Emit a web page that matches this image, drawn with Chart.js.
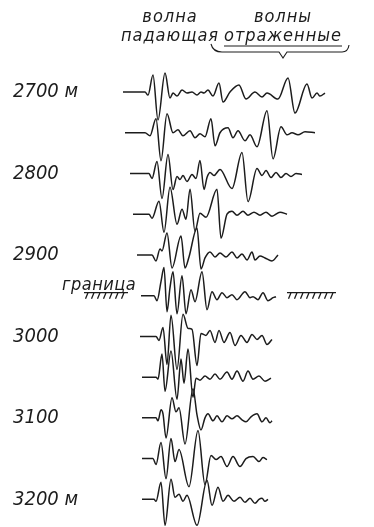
<!DOCTYPE html>
<html>
<head>
<meta charset="utf-8">
<script src="https://cdn.jsdelivr.net/npm/chart.js@4.4.1/dist/chart.umd.min.js"></script>
<style>
  html, body { margin: 0; padding: 0; background: #fff; }
  canvas { display: block; }
</style>
</head>
<body>
<canvas id="seis" width="374" height="527"></canvas>
<script>
// geophone depths, m
var depths = [2700, 2750, 2800, 2850, 2900, 2950, 3000, 3050, 3100, 3150, 3200];
var depthTicks = [2700, 2800, 2900, 3000, 3100, 3200];
var boundaryDepth = 2950;

// each trace: [time, amplitude] at the turning points
var tr2700 = [[3,0],[25,0],[28,-3],[33,17],[38,-28],[45,19],[50,-6],[53,-1],[57,-4],[62,2],[67,-1],[72,0],[77,-3],[81,0],[84,-1],[88,2],[93,-4],[99,9],[103,-10],[110,0],[119,7],[126,-7],[135,0],[142,-5],[147,-1],[158,-7],[168,14],[175,-21],[187,8],[192,-6],[197,-1],[200,-4],[205,-1]];
var tr2750 = [[5,0],[25,0],[30,-3],[36,14],[41,-28],[47,19],[53,0],[58,3],[63,-3],[70,2],[75,-5],[80,-1],[85,-4],[91,14],[95,-13],[100,0],[108,5],[113,-5],[118,2],[125,-8],[130,-2],[137,-14],[147,22],[153,-26],[161,6],[167,-2],[172,0],[178,-2],[185,1],[195,0]];
var tr2800 = [[10,0],[29,0],[32,-5],[37,12],[42,-25],[48,19],[53,-16],[57,-3],[60,-6],[63,-2],[67,-8],[72,-1],[76,-5],[80,13],[84,-16],[87,-4],[90,1],[94,-2],[100,4],[112,-15],[122,21],[128,-28],[137,5],[142,-2],[146,3],[151,-4],[156,1],[161,-4],[166,0],[171,-3],[176,0],[182,-1]];
var tr2850 = [[13,0],[29,0],[32,-4],[39,13],[44,-18],[50,27],[57,-10],[62,5],[66,-5],[70,25],[75,-17],[80,1],[86,-3],[97,25],[101,-24],[107,0],[112,3],[117,-1],[123,3],[128,-1],[134,2],[140,-1],[146,2],[152,-2],[160,2],[167,0]];
var tr2900 = [[17,0],[32,0],[36,-6],[40,6],[42,4],[47,22],[52,-13],[61,19],[65,-13],[69,-2],[77,27],[81,-14],[85,-3],[90,3],[95,-2],[100,2],[106,-2],[112,3],[117,-3],[122,1],[127,-5],[132,3],[135,-5],[140,-1],[145,-3],[152,-6],[158,0]];
var tr2950 = [[21,0],[34,0],[37,-5],[41,14],[44,28],[47,-16],[50,8],[53,24],[57,-18],[62,20],[66,-18],[71,6],[75,-6],[82,24],[87,-14],[92,4],[97,-4],[102,3],[107,-2],[112,1],[117,-4],[125,4],[130,-2],[133,-1],[138,-4],[143,3],[148,-5],[153,-2],[156,-1]];
var tr3000 = [[20,0],[36,0],[39,-4],[43,9],[47,-28],[51,21],[57,-33],[63,22],[68,8],[72,7],[77,-29],[81,3],[86,1],[90,6],[95,-6],[99,6],[104,-6],[110,4],[115,-9],[121,1],[127,-6],[132,2],[137,-3],[142,1],[147,-8],[152,-3]];
var tr3050 = [[22,0],[36,0],[38,-2],[42,23],[45,-14],[51,26],[57,-22],[61,18],[64,-6],[68,28],[73,-20],[76,-1],[80,-3],[85,1],[90,-2],[95,3],[100,-2],[107,5],[112,-2],[117,6],[123,-4],[128,6],[133,-2],[139,1],[145,-4],[151,-1]];
var tr3100 = [[22,0],[36,0],[38,-3],[41,8],[43,4],[46,-20],[52,20],[56,6],[59,10],[65,-26],[73,29],[77,3],[81,-12],[85,0],[88,4],[93,-3],[97,2],[102,-4],[107,2],[112,-1],[117,2],[122,-2],[126,-4],[131,1],[137,4],[142,-4],[146,0],[150,-5],[152,-3]];
var tr3150 = [[22,0],[33,0],[36,-6],[41,16],[46,-20],[51,20],[55,-3],[59,9],[69,-28],[78,28],[85,-26],[91,3],[96,-1],[101,2],[107,-8],[113,2],[120,-8],[126,0],[133,2],[139,-3],[143,1],[147,-1]];
var tr3200 = [[22,0],[34,0],[36,-2],[41,17],[45,-26],[51,20],[55,2],[59,5],[63,-2],[67,4],[77,-26],[87,19],[92,-6],[98,12],[103,-2],[108,4],[114,-2],[120,2],[125,-3],[130,1],[135,-4],[139,0],[142,1],[145,-2],[148,0]];
var traces = [tr2700, tr2750, tr2800, tr2850, tr2900, tr2950, tr3000, tr3050, tr3100, tr3150, tr3200];

var gain = 1.23; // metres of depth per amplitude unit
var ink = '#1c1c1c';
var labelFont = '"DejaVu Sans Condensed", "Liberation Sans Narrow", sans-serif';

var datasets = traces.map(function (tr, i) {
    return {
        data: tr.map(function (p) { return { x: p[0], y: depths[i] - p[1] * gain }; }),
        borderColor: ink,
        borderWidth: 1.5,
        pointRadius: 0,
        fill: false,
        cubicInterpolationMode: 'monotone'
    };
});

var notes = {
    id: 'notes',
    afterDraw: function (chart) {
        var ctx = chart.ctx;
        var xs = chart.scales.x, ys = chart.scales.y;
        var top = chart.chartArea.top;
        ctx.save();
        ctx.fillStyle = ink;
        ctx.strokeStyle = ink;
        ctx.font = 'italic 18px ' + labelFont;
        ctx.letterSpacing = '1px';
        ctx.textAlign = 'center';
        ctx.textBaseline = 'alphabetic';
        var xa = xs.getPixelForValue(50), xb = xs.getPixelForValue(163);
        ctx.fillText('волна', xa, top + 22);
        ctx.fillText('падающая', xa, top + 41);
        ctx.fillText('волны', xb, top + 22);
        ctx.fillText('отраженные', xb, top + 41);

        // underline and brace under "отраженные"
        var w = ctx.measureText('отраженные').width;
        var l = xb - w / 2, r = xb + w / 2;
        ctx.lineWidth = 1.1;
        ctx.beginPath();
        ctx.moveTo(l, top + 46);
        ctx.lineTo(r, top + 46);
        ctx.stroke();
        ctx.beginPath();
        ctx.moveTo(l - 13, top + 44);
        ctx.quadraticCurveTo(l - 11, top + 52, l - 2, top + 52);
        ctx.lineTo(xb - 4, top + 52);
        ctx.lineTo(xb, top + 58);
        ctx.lineTo(xb + 4, top + 52);
        ctx.lineTo(r, top + 52);
        ctx.quadraticCurveTo(r + 6, top + 52, r + 7, top + 45);
        ctx.stroke();

        // boundary marks
        var yb = ys.getPixelForValue(boundaryDepth) - 3;
        ctx.letterSpacing = '0.5px';
        ctx.textAlign = 'left';
        ctx.fillText('граница', xs.getPixelForValue(-58), yb - 3);
        [[-36, 8], [167, 216]].forEach(function (seg) {
            var a = xs.getPixelForValue(seg[0]), b = xs.getPixelForValue(seg[1]);
            ctx.lineWidth = 1.3;
            ctx.beginPath();
            ctx.moveTo(a, yb);
            ctx.lineTo(b, yb);
            for (var x = a + 4; x <= b; x += 6) {
                ctx.moveTo(x, yb);
                ctx.lineTo(x - 2.5, yb + 6);
            }
            ctx.stroke();
        });
        ctx.restore();
    }
};

new Chart(document.getElementById('seis'), {
    type: 'line',
    data: { datasets: datasets },
    options: {
        responsive: false,
        animation: false,
        layout: { padding: { left: 13, right: 0, top: 0, bottom: 0 } },
        plugins: { legend: { display: false }, tooltip: { enabled: false } },
        scales: {
            x: { type: 'linear', min: -20, max: 254, display: false },
            y: {
                type: 'linear',
                reverse: true,
                min: 2587,
                max: 3234,
                grid: { display: false },
                border: { display: false },
                ticks: {
                    crossAlign: 'far',
                    padding: 0,
                    color: ink,
                    font: { family: labelFont, size: 20, style: 'italic' },
                    callback: function (v) {
                        return (v === 2700 || v === 3200) ? v + ' м' : String(v);
                    }
                },
                afterBuildTicks: function (axis) {
                    axis.ticks = depthTicks.map(function (v) { return { value: v }; });
                },
                afterFit: function (axis) {
                    axis.width = 87;
                    axis.paddingTop = 0;
                    axis.paddingBottom = 0;
                }
            }
        }
    },
    plugins: [notes]
});
</script>
</body>
</html>
